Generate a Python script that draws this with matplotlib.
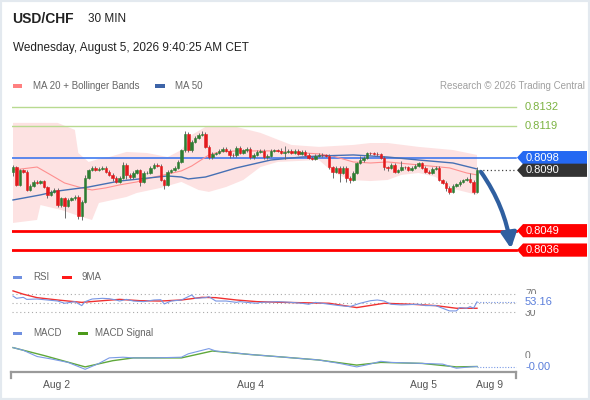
import numpy as np
import matplotlib
matplotlib.use("Agg")
import matplotlib.pyplot as plt
from matplotlib.patches import Polygon, Rectangle

plt.rcParams["font.family"] = ["Liberation Sans", "DejaVu Sans"]

# ---- data ----
first_open = 0.80884
closes = [
    0.80917, 0.80797, 0.80897, 0.80884, 0.80763, 0.80790, 0.80817, 0.80810, 0.80823, 0.80783,
    0.80730, 0.80750, 0.80763, 0.80662, 0.80709, 0.80656, 0.80696, 0.80709, 0.80716, 0.80589,
    0.80683, 0.80844, 0.80897, 0.80911, 0.80897, 0.80904, 0.80911, 0.80884, 0.80864, 0.80844,
    0.80817, 0.80844, 0.80931, 0.80864, 0.80850, 0.80877, 0.80897, 0.80817, 0.80877, 0.80880,
    0.80911, 0.80931, 0.80924, 0.80830, 0.80797, 0.80884, 0.80897, 0.80911, 0.80951, 0.81031,
    0.81139, 0.81031, 0.81085, 0.81112, 0.81132, 0.81139, 0.81052, 0.80984, 0.81005, 0.81011,
    0.81025, 0.81038, 0.81025, 0.80998, 0.80995, 0.81045, 0.81011, 0.81031, 0.81038, 0.80984,
    0.80998, 0.81018, 0.81025, 0.80984, 0.80991, 0.81025, 0.81031, 0.81025, 0.81011, 0.81018,
    0.81025, 0.81011, 0.81025, 0.81005, 0.81018, 0.80998, 0.80978, 0.80971, 0.80991, 0.80998,
    0.80995, 0.80991, 0.80917, 0.80884, 0.80911, 0.80877, 0.80911, 0.80844, 0.80830, 0.80877,
    0.80944, 0.80964, 0.80978, 0.81011, 0.81008, 0.81005, 0.81002, 0.80978, 0.80917, 0.80911,
    0.80931, 0.80884, 0.80897, 0.80917, 0.80914, 0.80897, 0.80911, 0.80924, 0.80944, 0.80911,
    0.80884, 0.80877, 0.80904, 0.80911, 0.80830, 0.80810, 0.80777, 0.80750, 0.80790, 0.80803,
    0.80817, 0.80830, 0.80837, 0.80817, 0.80750, 0.80900,
]
# wick lengths beyond the body, in pips
wick_up = [
    1.5, 1, 1, 1, 1, 1, 1, 1, 1, 1,
    1, 1, 1, 1, 1, 1, 1, 1, 1, 1,
    1, 2, 1, 1, 1, 1, 1, 1, 1, 1,
    1, 1, 2, 1, 1, 1, 1, 1, 1, 1,
    1, 1, 1, 1, 1, 1, 1, 1, 1, 1,
    2, 1, 1, 1, 1, 2, 1, 1, 1, 1,
    1, 1, 1, 1, 1, 1, 1, 1, 1, 1,
    1, 1, 1, 1, 1, 1, 1, 1, 2, 4,
    1, 1, 1, 1, 1, 1, 1, 1, 1, 1,
    1, 1, 1, 1, 1, 1, 1, 1, 1, 1,
    1, 3, 1, 1, 1, 1, 1, 1, 1, 1,
    1, 1, 1, 4, 1, 1, 1, 1, 1, 1,
    1, 1, 1, 1, 1, 1, 1, 1, 1, 1,
    1, 1, 1, 4, 1, 1.5,
]
wick_dn = [
    2.5, 1, 1, 1, 1, 1, 1, 1, 1, 1,
    2, 1, 1, 1, 1, 8, 1, 1, 1, 2,
    3, 1, 1, 1, 1, 1, 1, 1, 1, 2,
    1, 1, 1, 3, 1, 1, 1, 3, 1, 1,
    1, 1, 1, 1, 3, 1, 1, 1, 1, 1,
    1, 1, 1, 1, 1, 1, 1, 1, 1, 1,
    1, 1, 1, 2, 1, 1, 1, 1, 1, 1,
    1, 1, 1, 1, 1, 1, 1, 1, 1, 4,
    1, 1, 1, 1, 1, 1, 1, 1, 1, 1,
    1, 1, 1, 4, 1, 6, 1, 3, 2, 1,
    1, 1, 1, 1, 1, 1, 1, 1, 2, 2,
    1, 1, 1, 1, 1, 1, 1, 1, 1, 1,
    1, 1, 1, 1, 1, 1, 2, 1.5, 1, 1,
    1, 1, 1, 1, 1.5, 1,
]

ma20_idx = [0, 7, 11, 15, 20, 23, 27, 31, 36, 40, 45, 49, 52, 57, 60, 65, 75, 89, 93, 99, 104, 109, 118, 127, 132, 135]
ma20_val = [0.80897, 0.80917, 0.80864, 0.80810, 0.80777, 0.80763, 0.80777, 0.80797, 0.80817, 0.80844,
            0.80870, 0.80891, 0.80924, 0.80998, 0.81018, 0.81025, 0.81025, 0.81005, 0.80991, 0.80951,
            0.80944, 0.80951, 0.80931, 0.80911, 0.80877, 0.80864]
ma50_idx = [0, 8, 13, 22, 31, 45, 49, 51, 56, 60, 65, 75, 84, 89, 99, 109, 118, 128, 135]
ma50_val = [0.80696, 0.80730, 0.80756, 0.80783, 0.80823, 0.80857, 0.80850, 0.80837, 0.80850, 0.80877,
            0.80911, 0.80964, 0.80984, 0.80991, 0.80998, 0.80984, 0.80964, 0.80944, 0.80904]
bb_up_idx = [0, 13, 18, 19, 22, 26, 28, 33, 39, 45, 49, 52, 56, 65, 72, 81, 89, 99, 104, 109, 118, 128, 135]
bb_up_val = [0.81213, 0.81213, 0.81166, 0.81011, 0.80951, 0.80978, 0.80984, 0.81018, 0.81011, 0.80984,
             0.81031, 0.81132, 0.81186, 0.81186, 0.81146, 0.81065, 0.81052, 0.81065, 0.81078, 0.81078,
             0.81052, 0.81031, 0.80998]
bb_lo_idx = [0, 7, 8, 14, 20, 23, 25, 33, 36, 43, 49, 54, 57, 62, 67, 72, 77, 89, 93, 98, 104, 109, 113, 118, 123, 127, 135]
bb_lo_val = [0.80542, 0.80562, 0.80662, 0.80629, 0.80582, 0.80562, 0.80676, 0.80716, 0.80743, 0.80777,
             0.80817, 0.80763, 0.80750, 0.80783, 0.80830, 0.80917, 0.80951, 0.80964, 0.80884, 0.80830,
             0.80823, 0.80830, 0.80864, 0.80877, 0.80850, 0.80777, 0.80730]

rsi_idx = [0, 1, 3, 4, 7, 10, 13, 15, 18, 20, 21, 23, 26, 28, 30, 31, 33, 35, 38, 41, 43, 44, 46, 49, 52,
           53, 56, 57, 59, 62, 65, 66, 68, 71, 72, 77, 81, 84, 86, 88, 92, 95, 98, 101, 104, 106, 108,
           110, 113, 118, 120, 123, 125, 127, 129, 130, 132, 133, 134, 135]
rsi_val = [66.2, 61, 63.2, 58.7, 59.5, 57.3, 55, 50, 53.6, 44.8, 53.6, 59.5, 61, 60.2, 57.3, 55, 58.7, 55,
           53.6, 57.3, 58, 48.5, 55, 57.3, 68.5, 61, 62.5, 64.7, 55, 55, 52, 53.6, 52, 50, 52, 53.6, 52,
           50, 47.8, 52, 47.8, 44.8, 42.6, 50, 55.7, 57.3, 55, 47.8, 46.3, 47.8, 44.8, 44.8, 38.9, 33,
           33, 40.4, 38.9, 42.6, 38.9, 53.16]
rsi_ma_idx = [0, 3, 7, 13, 20, 26, 31, 37, 43, 49, 55, 59, 65, 71, 79, 92, 100, 108, 116, 123, 129, 135]
rsi_ma_val = [77.6, 70.2, 62.5, 57.3, 52, 55.7, 58.7, 55.7, 55, 57.3, 63.2, 62.5, 57.3, 53.6, 52, 50,
              40.4, 50, 47.8, 44.8, 38.9, 38.9]

macd_idx = [0, 3, 7, 11, 16, 21, 25, 28, 32, 35, 41, 49, 51, 57, 59, 69, 79, 89, 95, 100, 103, 107,
            110, 119, 125, 129, 133, 135]
macd_val = [0.000188, 0.000134, 0.00001, -0.000038, -0.000108, -0.000246, -0.000128, -0.000018,
            -0.000004, -0.000018, -0.000018, -0.000004, 0.000064, 0.000168, 0.00012, 0.00005, -0.000004,
            -0.00006, -0.000128, -0.000198, -0.000156, -0.000086, -0.000108, -0.000128, -0.000142,
            -0.000224, -0.000198, -0.00019]
sig_idx = [0, 9, 21, 29, 35, 49, 58, 69, 79, 89, 100, 107, 119, 129, 135]
sig_val = [0.000188, 0.00003, -0.000198, -0.000074, -0.000018, -0.000018, 0.00012, 0.00005, -0.000004,
           -0.00006, -0.000162, -0.000108, -0.000128, -0.000198, -0.00019]

green_levels = [0.8132, 0.8119]
resistance = 0.8098
last_price = 0.8090
supports = [0.8049, 0.8036]
target = 0.8037

date_idx = [12.8, 69.2, 119.3, 138.8]
date_lbl = ["Aug 2", "Aug 4", "Aug 5", "Aug 9"]

# ---- layout helpers (pixel positions of the 590x400 picture) ----
W, H = 590, 400
PX_BAR = 3.437


def bar_at(px):
    return (px - 13) / PX_BAR


def ax_rect(top, bottom, left=12, right=590):
    return [left / W, 1 - bottom / H, (right - left) / W, (bottom - top) / H]


def ftext(px, py, s, **kw):
    fig.text(px / W, 1 - py / H, s, va="center", **kw)


XLIM = (bar_at(12), bar_at(590))
X_END = bar_at(516)

fig = plt.figure(figsize=(W / 100, H / 100), dpi=100)
fig.patch.set_facecolor("white")
fig.add_artist(Rectangle((0, 0), 1, 1, transform=fig.transFigure, fill=False,
                         ec="#e3e9ef", lw=3))

# header
ftext(12, 19, "USD/CHF", fontsize=10, fontweight="bold", color="#222222")
ftext(88, 19, "30 MIN", fontsize=8.5, color="#222222")
ftext(13, 48, "Wednesday, August 5, 2026 9:40:25 AM CET", fontsize=8.5, color="#222222")

# legend of price panel
fig.add_artist(Rectangle((13 / W, 1 - 88 / H), 9 / W, 3.5 / H, transform=fig.transFigure,
                         fc="#ff8080", ec="none"))
ftext(33, 86, "MA 20 + Bollinger Bands", fontsize=7, color="#666666")
fig.add_artist(Rectangle((155 / W, 1 - 88 / H), 10 / W, 3.5 / H, transform=fig.transFigure,
                         fc="#3e64a8", ec="none"))
ftext(175, 86, "MA 50", fontsize=7, color="#666666")
ftext(585, 86, "Research \u00a9 2026 Trading Central", fontsize=7, color="#a0a0a0", ha="right")

# ---- price panel ----
ax = fig.add_axes(ax_rect(95, 262))
ax.set_axis_off()
ax.set_xlim(*XLIM)
ax.set_ylim(0.80280, 0.81400)

PPX = 0.0000671  # price per pixel

band_x = np.r_[bb_up_idx, bb_lo_idx[::-1]]
band_y = np.r_[bb_up_val, bb_lo_val[::-1]]
ax.fill(band_x, band_y, color="#fde2e2", lw=0, zorder=1)

for lv in green_levels:
    ax.plot([XLIM[0], X_END], [lv, lv], color="#b8da90", lw=1, zorder=2)
ax.plot([XLIM[0], X_END], [resistance, resistance], color="#2f6fef", lw=1.1, zorder=2)
for lv in supports:
    ax.plot([XLIM[0], X_END], [lv, lv], color="#ff0000", lw=2, zorder=2)

ax.plot(ma20_idx, ma20_val, color="#ff8f8f", lw=0.8, zorder=3)
ax.plot(ma50_idx, ma50_val, color="#4670b4", lw=1.0, zorder=3)

c = np.array(closes)
o = np.r_[first_open, c[:-1]]
x = np.arange(len(c))
top = np.maximum(o, c) + np.array(wick_up) * 0.0001
bot = np.minimum(o, c) - np.array(wick_dn) * 0.0001
up = c >= o
ax.vlines(x, bot, top, color="#6b6b6b", lw=0.7, zorder=4)
cols = np.where(up, "#2e7d32", "#e31a1c")
ax.bar(x, c - o, bottom=o, width=0.72, color=cols, edgecolor=cols, lw=0.4, zorder=5)

# dotted line from last candle to the current price tag
ax.plot([x[-1] + 0.6, X_END], [last_price, last_price], color="#444444", lw=0.9,
        ls=(0, (1, 2)), zorder=3)

# projection arrow
ax.annotate("", xy=(bar_at(511), target), xytext=(bar_at(481), 0.80884),
            arrowprops=dict(arrowstyle="-|>,head_length=0.9,head_width=0.45", lw=3,
                            color="#2f5fa0", shrinkA=0, shrinkB=0,
                            connectionstyle="arc3,rad=-0.12"), zorder=6)


def tag(price, text, fc, dy=0.0):
    y = price + dy
    h = 6.6 * PPX
    pts = [(bar_at(517), y), (bar_at(523), y + h), (bar_at(587), y + h),
           (bar_at(587), y - h), (bar_at(523), y - h)]
    ax.add_patch(Polygon(pts, closed=True, fc=fc, ec="none", clip_on=False, zorder=7))
    ax.text(bar_at(526), y, text, color="white", fontsize=8, va="center", ha="left",
            zorder=8, clip_on=False)


for lv in green_levels:
    ax.text(bar_at(525), lv, f"{lv:.4f}", color="#7cb342", fontsize=8, va="center", ha="left")
tag(resistance, f"{resistance:.4f}", "#2468f2")
tag(last_price, f"{last_price:.4f}", "#333333", dy=-0.7 * PPX)
for lv in supports:
    tag(lv, f"{lv:.4f}", "#ff0000")

# ---- RSI panel ----
fig.add_artist(Rectangle((13 / W, 1 - 279 / H), 9 / W, 3.5 / H, transform=fig.transFigure,
                         fc="#7090e0", ec="none"))
ftext(33, 277, "RSI", fontsize=7, color="#666666")
fig.add_artist(Rectangle((62 / W, 1 - 279 / H), 10 / W, 3.5 / H, transform=fig.transFigure,
                         fc="#ff1a1a", ec="none"))
ftext(82, 277, "9MA", fontsize=7, color="#666666")

ax_r = fig.add_axes(ax_rect(289.8, 314.5))
ax_r.set_axis_off()
ax_r.set_xlim(*XLIM)
ax_r.set_ylim(25, 80)
for lv in (70, 50, 30):
    ax_r.plot([XLIM[0], X_END], [lv, lv], color="#aaaaaa", lw=0.8, ls=(0, (1, 2.5)), zorder=1)
ax_r.plot(rsi_ma_idx, rsi_ma_val, color="#f03030", lw=1.0, zorder=2)
ax_r.plot(rsi_idx, rsi_val, color="#7896e4", lw=0.8, zorder=3)
ax_r.plot([rsi_idx[-1], X_END], [rsi_val[-1], rsi_val[-1]], color="#7896e4", lw=0.8,
          ls=(0, (1, 1.5)), zorder=3)
# the current-value tag hides half of the 70 / 30 level labels, as in the original
ax_r.text(bar_at(525), 71, "70", color="#777777", fontsize=7.5, va="center", ha="left",
          clip_on=False, zorder=4)
ax_r.text(bar_at(525), 28.5, "30", color="#777777", fontsize=7.5, va="center", ha="left",
          clip_on=False, zorder=4)
ax_r.text(bar_at(525), rsi_val[-1], f"{rsi_val[-1]:.2f}", color="#5b7fdb", fontsize=8,
          va="center", ha="left", clip_on=False, zorder=5,
          bbox=dict(fc="white", ec="none", pad=2.2))

# ---- MACD panel ----
fig.add_artist(Rectangle((13 / W, 1 - 335 / H), 9 / W, 3.5 / H, transform=fig.transFigure,
                         fc="#7090e0", ec="none"))
ftext(33, 333, "MACD", fontsize=7, color="#666666")
fig.add_artist(Rectangle((78 / W, 1 - 335 / H), 10 / W, 3.5 / H, transform=fig.transFigure,
                         fc="#4c9a1a", ec="none"))
ftext(95, 333, "MACD Signal", fontsize=7, color="#666666")

ax_m = fig.add_axes(ax_rect(344, 372))
ax_m.set_xlim(*XLIM)
ax_m.set_ylim(-0.00030, 0.00026)
for s in ("top", "left", "right"):
    ax_m.spines[s].set_visible(False)
ax_m.spines["bottom"].set_bounds(bar_at(11), bar_at(515.5))
ax_m.spines["bottom"].set_color("#9a9a9a")
ax_m.spines["bottom"].set_linewidth(1.6)
ax_m.set_yticks([])
ax_m.set_xticks(date_idx)
ax_m.set_xticklabels(date_lbl)
ax_m.tick_params(axis="x", length=0, pad=6, labelsize=7.5, labelcolor="#555555")
ax_m.set_facecolor("none")
tr = ax_m.get_xaxis_transform()
for xe in (bar_at(11), bar_at(515.5)):
    ax_m.plot([xe, xe], [0, -6 / 28], color="#9a9a9a", lw=1.6, transform=tr, clip_on=False)

ax_m.plot(sig_idx, sig_val, color="#5fa83a", lw=1.0, zorder=2)
ax_m.plot(macd_idx, macd_val, color="#7b9be6", lw=0.8, zorder=3)
ax_m.plot([macd_idx[-1], X_END], [macd_val[-1], macd_val[-1]], color="#7b9be6", lw=0.8,
          ls=(0, (1, 1.5)), zorder=3)
ax_m.text(bar_at(525), 0.00002, "0", color="#777777", fontsize=7.5, va="center", ha="left",
          clip_on=False, zorder=4)
ax_m.text(bar_at(525), macd_val[-1], "-0.00", color="#5b7fdb", fontsize=8,
          va="center", ha="left", clip_on=False, zorder=5,
          bbox=dict(fc="white", ec="none", pad=2.2))

fig.savefig("out.png", dpi=100, facecolor="white")
